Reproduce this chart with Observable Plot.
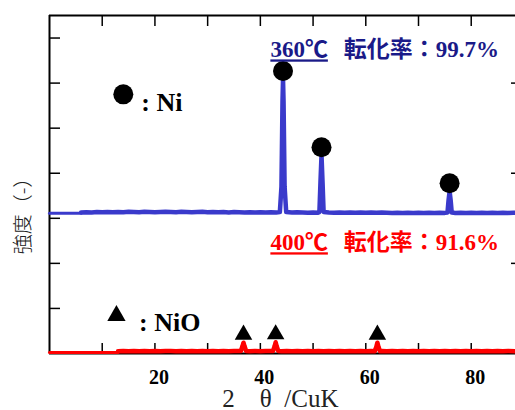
<!DOCTYPE html>
<html><head><meta charset="utf-8">
<script src="https://cdn.jsdelivr.net/npm/d3@7"></script>
<script src="https://cdn.jsdelivr.net/npm/@observablehq/plot@0.6"></script>
<style>
body{margin:0;background:#fff;}
</style></head><body><div id="chart"></div>
<script>
// ---- data ----
const xDomain = [0, 88.4];
const yDomain = [0, 7.5];
const xTickValues = [10, 20, 30, 40, 50, 60, 70, 80];
const xTickLabels = [20, 40, 60, 80];
const yTickValues = [1, 2, 3, 4, 5, 6, 7];
const yRightTickValues = [2, 4, 6];

// 360°C sample (blue): flat lead-in, then measured scan
const bluePre = [[0, 3.11], [6, 3.11]];
const blueScan = [[6,3.13],[7,3.135],[8,3.13],[9,3.14],[10,3.135],[11,3.14],[12,3.135],[13,3.14],[14,3.135],[15,3.145],[16,3.14],[17,3.135],[18,3.145],[19,3.14],[20,3.135],[21,3.14],[22,3.145],[23,3.14],[24,3.135],[25,3.145],[26,3.14],[27,3.135],[28,3.14],[29,3.145],[30,3.135],[31,3.14],[32,3.135],[33,3.14],[34,3.13],[35,3.14],[36,3.135],[37,3.13],[38,3.135],[39,3.13],[40,3.135],[41,3.13],[42,3.135],[43,3.13],[43.7,3.14],[44.0,3.7],[44.2,5.6],[44.3,6.09],[44.4,5.6],[44.6,3.7],[44.9,3.14],[46,3.13],[47,3.135],[48,3.13],[49,3.125],[50,3.13],[51,3.125],[51.2,3.14],[51.4,3.8],[51.6,4.4],[51.8,3.8],[52.0,3.14],[53,3.13],[54,3.125],[55,3.13],[56,3.125],[57,3.13],[58,3.125],[59,3.13],[60,3.125],[61,3.13],[62,3.125],[63,3.13],[64,3.125],[65,3.12],[66,3.125],[67,3.12],[68,3.125],[69,3.12],[70,3.125],[71,3.12],[72,3.125],[73,3.12],[74,3.125],[75,3.12],[75.5,3.13],[75.7,3.4],[75.9,3.6],[76.1,3.4],[76.3,3.13],[77,3.12],[78,3.125],[79,3.12],[80,3.125],[81,3.12],[82,3.125],[83,3.12],[84,3.125],[85,3.12],[86,3.125],[87,3.12],[88,3.125],[88.4,3.12]];

// 400°C sample (red)
const redPre = [[0, 0.02], [13, 0.02]];
const redScan = [[13,0.05],[14,0.055],[15,0.05],[16,0.055],[17,0.05],[18,0.055],[19,0.05],[20,0.055],[21,0.05],[22,0.055],[23,0.055],[24,0.05],[25,0.055],[26,0.05],[27,0.055],[28,0.05],[29,0.055],[30,0.05],[31,0.055],[32,0.05],[33,0.055],[34,0.05],[35,0.055],[36.3,0.055],[36.6,0.16],[36.8,0.24],[37.0,0.16],[37.3,0.055],[38,0.05],[39,0.055],[40,0.05],[41,0.055],[42.4,0.055],[42.7,0.16],[42.9,0.25],[43.1,0.16],[43.4,0.055],[44,0.05],[45,0.055],[46,0.05],[47,0.055],[48,0.05],[49,0.055],[50,0.05],[51,0.055],[52,0.05],[53,0.055],[54,0.05],[55,0.055],[56,0.05],[57,0.055],[58,0.05],[59,0.055],[60,0.05],[61,0.055],[61.7,0.05],[62.0,0.15],[62.2,0.24],[62.4,0.15],[62.7,0.05],[63,0.055],[64,0.05],[65,0.055],[66,0.05],[67,0.055],[68,0.05],[69,0.055],[70,0.05],[71,0.055],[72,0.05],[73,0.055],[74,0.05],[75,0.055],[76,0.05],[77,0.055],[78,0.05],[79,0.055],[80,0.05],[81,0.055],[82,0.05],[83,0.055],[84,0.05],[85,0.055],[86,0.05],[87,0.055],[88.4,0.05]];

const niPeakTheta = [44.3, 51.6, 75.9];
const niPeakHeight = [6.09, 4.4, 3.6];
const nioPeakTheta = [36.8, 42.9, 62.2];
const nioPeakHeight = [0.24, 0.25, 0.24];

const sampleTemps = ["360℃", "400℃"];
const sampleConv = ["転化率：99.7%", "転化率：91.6%"];
const legendNames = [": Ni", ": NiO"];
const xTitle = "2\u2003θ\u2002/CuK";
const yTitle = "強度（-）";

// ---- build ----
const BLUE = "#3a3acb", NAVY = "#1a1a88", RED = "#ff0000";
const SERIF = "'Liberation Serif', 'Noto Sans CJK JP', serif";
const pairs = a => a.map(([x, y]) => ({x, y}));
const niPeaks = niPeakTheta.map((x, i) => ({x, y: niPeakHeight[i]}));
const nioPeaks = nioPeakTheta.map((x, i) => ({x, y: nioPeakHeight[i]}));
const titles = [
  {temp: sampleTemps[0], conv: sampleConv[0], y: 6.57, c: NAVY},
  {temp: sampleTemps[1], conv: sampleConv[1], y: 2.29, c: RED}
];

const plot = Plot.plot({
  width: 515, height: 410,
  marginLeft: 49, marginRight: 0, marginTop: 15, marginBottom: 57,
  x: {domain: xDomain, axis: null},
  y: {domain: yDomain, axis: null},
  style: {background: "white", fontFamily: SERIF, overflow: "visible"},
  marks: [
    // frame
    Plot.ruleX([xDomain[0]], {stroke: "black", strokeWidth: 2}),
    Plot.ruleY([yDomain[0], yDomain[1]], {stroke: "black", strokeWidth: 2}),
    // inward ticks
    Plot.tickX(xTickValues, {x: d => d, insetBottom: 327, stroke: "black", strokeWidth: 1.5}),
    Plot.tickX(xTickValues, {x: d => d, insetTop: 328, stroke: "black", strokeWidth: 1.5}),
    Plot.tickY(yTickValues, {y: d => d, insetRight: 455, stroke: "black", strokeWidth: 1.5}),
    Plot.tickY(yRightTickValues, {y: d => d, insetLeft: 462, stroke: "black", strokeWidth: 1.5}),
    // traces
    Plot.line(pairs(bluePre), {x: "x", y: "y", stroke: BLUE, strokeWidth: 3}),
    Plot.line(pairs(blueScan), {x: "x", y: "y", stroke: BLUE, strokeWidth: 4.5, strokeLinejoin: "round"}),
    Plot.line(pairs(redPre), {x: "x", y: "y", stroke: RED, strokeWidth: 3}),
    Plot.line(pairs(redScan), {x: "x", y: "y", stroke: RED, strokeWidth: 4.5, strokeLinejoin: "round"}),
    // peak markers
    Plot.dot(niPeaks, {x: "x", y: "y", r: 10, fill: "black", dy: -8}),
    Plot.dot(nioPeaks, {x: "x", y: "y", r: 6.5, symbol: "triangle", fill: "black", dy: -8}),
    // legend
    Plot.dot([legendNames[0]], {x: 14.0, y: 5.75, r: 10, fill: "black"}),
    Plot.text([legendNames[0]], {x: 17.4, y: 5.37, text: d => d, textAnchor: "start", lineAnchor: "bottom", fontSize: 26, fontWeight: "bold", fill: "black"}),
    Plot.dot([legendNames[1]], {x: 12.7, y: 0.84, r: 6.8, symbol: "triangle", fill: "black"}),
    Plot.text([legendNames[1]], {x: 17.0, y: 0.51, text: d => d, textAnchor: "start", lineAnchor: "bottom", fontSize: 26, fontWeight: "bold", fill: "black"}),
    // sample titles
    Plot.text(titles, {x: 41.9, y: "y", text: "temp", fill: "c", textAnchor: "start", lineAnchor: "bottom", fontSize: 23, fontWeight: "bold"}),
    Plot.text(titles, {x: 55.8, y: "y", text: "conv", fill: "c", textAnchor: "start", lineAnchor: "bottom", fontSize: 23, fontWeight: "bold"}),
    // tick labels
    Plot.text(xTickLabels, {x: d => d, frameAnchor: "bottom", dy: 30, dx: 4, text: d => String(d), lineAnchor: "bottom", fontSize: 20, fontWeight: "bold", fill: "black"}),
    // axis titles
    Plot.text([xTitle], {x: 43.8, frameAnchor: "bottom", dy: 53, text: d => d, lineAnchor: "bottom", fontSize: 25, fill: "#222"}),
    Plot.text([yTitle], {x: xDomain[0], y: 2.2, dx: -26, rotate: -90, text: d => d, fontSize: 20, textAnchor: "start", lineAnchor: "middle", fill: "#222", fontFamily: "'Noto Sans CJK JP', sans-serif", fontWeight: 300})
  ]
});

// underline the temperature labels
d3.select(plot).selectAll("text").each(function () {
  if (sampleTemps.includes(this.textContent)) this.style.textDecoration = "underline";
});
document.getElementById("chart").appendChild(plot);
</script>
</body></html>
